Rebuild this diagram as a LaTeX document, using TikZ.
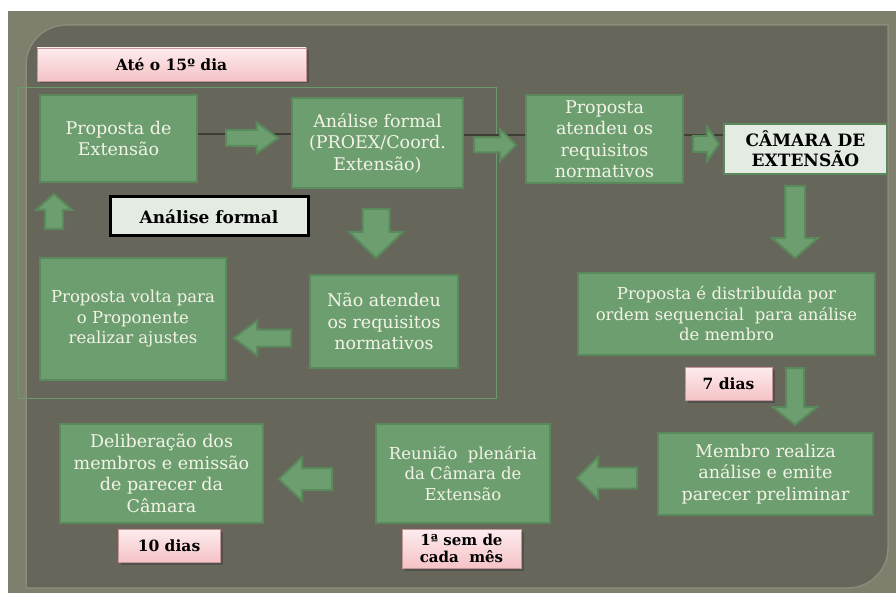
\documentclass[tikz,border=0pt]{standalone}
\usepackage{fontspec}
\setmainfont{DejaVu Serif}
\usetikzlibrary{shapes.arrows,shadows}
\definecolor{outerbg}{HTML}{7E7F6D}
\definecolor{panel}{HTML}{66675A}
\definecolor{panelrim}{HTML}{8A8B79}
\definecolor{gfill}{HTML}{6D9E70}
\definecolor{gborder}{HTML}{5A8A5C}
\definecolor{framec}{HTML}{6A9A6C}
\definecolor{cream}{HTML}{F3F3E6}
\definecolor{pinktop}{HTML}{FDECEE}
\definecolor{pinkbot}{HTML}{F5C3C6}
\definecolor{pinkborder}{HTML}{C49698}
\definecolor{lightbox}{HTML}{E4EBE3}
\definecolor{linkc}{HTML}{3E3F34}
\begin{document}
\begin{tikzpicture}[x=1pt,y=-1pt,
  gbox/.style={draw=gborder, line width=2.5pt, fill=gfill, text=cream, align=center, inner sep=0pt},
  bigtxt/.style={font=\fontsize{17.5}{21.5}\selectfont},
  smalltxt/.style={font=\fontsize{16.5}{20.5}\selectfont},
  pinkbox/.style={draw=pinkborder, line width=0.8pt, top color=pinktop, bottom color=pinkbot,
    drop shadow={shadow xshift=2.5pt, shadow yshift=-2.5pt, opacity=0.8, fill=black!70},
    align=center, inner sep=0pt, font=\bfseries\fontsize{15.5}{18}\selectfont},
  barrow/.style={single arrow, draw=gborder, fill=gfill, line width=2pt, inner xsep=0pt, minimum width=0pt},
  link/.style={draw=linkc, line width=1.6pt}
]
\useasboundingbox (0,0) rectangle (896,593);
\fill[white] (0,0) rectangle (896,593);
\fill[outerbg] (8,11) rectangle (896,593);
\filldraw[fill=panel, draw=panelrim, line width=1.5pt] (26,588) -- (26,65) .. controls (26,43) and (44,25) .. (66,25) -- (888,25) -- (888,548) .. controls (888,570) and (870,588) .. (848,588) -- cycle;

% frame of the formal analysis stage
\draw[framec, line width=1pt] (18,88) rectangle (496,398);

% top label
\node[pinkbox, minimum width=269pt, minimum height=33pt] (ate) at (171.5,64.5) {Até o 15º dia};

% boxes
\node[gbox, bigtxt, minimum width=157pt, minimum height=87pt] (p1) at (118.5,138.5) {Proposta de\\Extensão};
\node[gbox, bigtxt, minimum width=171pt, minimum height=90pt] (p2) at (377.5,143) {Análise formal\\(PROEX/Coord.\\Extensão)};
\node[draw=black, line width=3pt, fill=lightbox, inner sep=0pt, minimum width=198pt, minimum height=39pt, font=\bfseries\fontsize{17}{20}\selectfont] (lab) at (209,216.5) {Análise formal};
\node[gbox, smalltxt, minimum width=186pt, minimum height=122pt] (p3) at (133,319) {Proposta volta para\\o Proponente\\realizar ajustes};
\node[gbox, bigtxt, minimum width=148pt, minimum height=93pt] (p4) at (384,321.5) {Não atendeu\\os requisitos\\normativos};
\node[gbox, bigtxt, minimum width=157pt, minimum height=88pt] (p5) at (604.5,139) {Proposta\\atendeu os\\requisitos\\normativos};
\node[draw=gborder, line width=2.5pt, fill=lightbox, inner sep=0pt, align=center, minimum width=163pt, minimum height=50pt, font=\bfseries\fontsize{17}{20}\selectfont] (cam) at (805.5,149) {CÂMARA DE\\EXTENSÃO};
\node[gbox, smalltxt, minimum width=297pt, minimum height=82pt] (p6) at (726.5,314) {Proposta é distribuída por\\ordem sequencial \ para análise\\de membro};
\node[pinkbox, minimum width=87pt, minimum height=33pt] (sete) at (728.5,383.5) {7 dias};
\node[gbox, bigtxt, minimum width=215pt, minimum height=82pt] (p7) at (765.5,474) {Membro realiza\\análise e emite\\parecer preliminar};
\node[gbox, smalltxt, minimum width=174pt, minimum height=99pt] (p8) at (463,473.5) {Reunião \ plenária\\da Câmara de\\Extensão};
\node[pinkbox, minimum width=119pt, minimum height=39pt, font=\bfseries\fontsize{15}{17}\selectfont] (sem) at (461.5,548.5) {1ª sem de\\cada \ mês};
\node[gbox, bigtxt, minimum width=203pt, minimum height=99pt] (p9) at (161.5,473.5) {Deliberação dos\\membros e emissão\\de parecer da\\Câmara};
\node[pinkbox, minimum width=102pt, minimum height=33pt] (dez) at (169,545.5) {10 dias};

% thin connecting lines of the top row
\coordinate (la) at (0,134);
\coordinate (lb) at (0,135);
\draw[link] (p1.east |- la) -- (p2.west |- la);
\draw[link] (p2.east |- lb) -- (p5.west |- lb);
\draw[link] (p5.east |- lb) -- (cam.west |- lb);

% block arrows
\node[barrow, anchor=tail, rotate=0, minimum height=52pt, inner ysep=7pt, single arrow head extend=7.5pt, single arrow tip angle=72] (a1) at (225,138) {};
\node[barrow, anchor=tail, rotate=0, minimum height=42pt, inner ysep=6.5pt, single arrow head extend=8.5pt, single arrow tip angle=90] (a2) at (473,145) {};
\node[barrow, anchor=tail, rotate=0, minimum height=26pt, inner ysep=7pt, single arrow head extend=9pt, single arrow tip angle=110] (a3) at (692,144) {};
\node[barrow, anchor=tail, rotate=-90, minimum height=72pt, inner ysep=9pt, single arrow head extend=13pt, single arrow tip angle=98] (a4) at (795,185) {};
\node[barrow, anchor=tail, rotate=-90, minimum height=57pt, inner ysep=8pt, single arrow head extend=13pt, single arrow tip angle=102] (a5) at (795,367) {};
\node[barrow, anchor=tail, rotate=180, minimum height=60pt, inner ysep=9.5pt, single arrow head extend=10.5pt, single arrow tip angle=90] (a6) at (638,478) {};
\node[barrow, anchor=tail, rotate=180, minimum height=53pt, inner ysep=10pt, single arrow head extend=11pt, single arrow tip angle=87] (a7) at (333,479) {};
\node[barrow, anchor=tail, rotate=180, minimum height=57pt, inner ysep=7.5pt, single arrow head extend=9pt, single arrow tip angle=74] (a8) at (292,338) {};
\node[barrow, anchor=tail, rotate=90, minimum height=35pt, inner ysep=8pt, single arrow head extend=9pt, single arrow tip angle=97] (a9) at (54,230) {};
\node[barrow, anchor=tail, rotate=-90, minimum height=49pt, inner ysep=12.5pt, single arrow head extend=13.5pt, single arrow tip angle=92] (a10) at (376,208) {};
\end{tikzpicture}
\end{document}
